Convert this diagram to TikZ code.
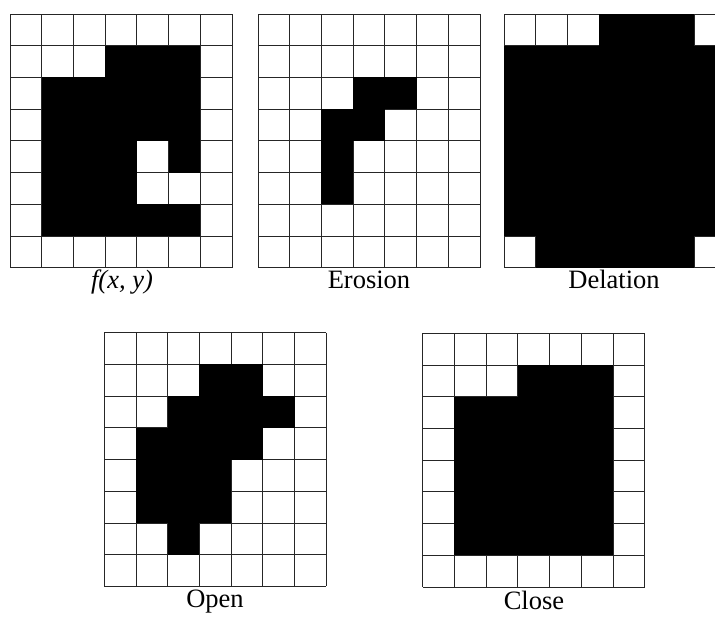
\documentclass[tikz,border=0pt]{standalone}
\usepackage{fontspec}
\setmainfont{Liberation Serif}
\newcommand\cw{31.7}
\newcommand\pixlines[2]{%
  \foreach \i in {0,...,7} {\draw[gridline] ({#1+\i*\cw},#2) -- ++(0,{8*\cw});}
  \foreach \j in {0,...,8} {\draw[gridline] (#1,{#2+\j*\cw}) -- ++({7*\cw},0);}
}
\newcommand\pixcells[3]{%
  \foreach \r/\c in {#3} {\fill[black] ({#1+\c*\cw},{#2+\r*\cw}) rectangle ++(\cw,\cw);}
}
\begin{document}
\begin{tikzpicture}[x=1pt,y=-1pt,
  gridline/.style={draw=black!85,line width=0.7pt},
  lab/.style={anchor=base,inner sep=0pt,font=\fontsize{26.5}{30}\selectfont}]
\useasboundingbox (0,0) rectangle (715,616);
\clip (0,0) rectangle (715,616);
% f(x,y)
\pixlines{10}{14}
\pixcells{10}{14}{1/3,1/4,1/5,2/1,2/2,2/3,2/4,2/5,3/1,3/2,3/3,3/4,3/5,4/1,4/2,4/3,4/5,5/1,5/2,5/3,6/1,6/2,6/3,6/4,6/5}
% Erosion
\pixlines{258}{14}
\pixcells{258}{14}{2/3,2/4,3/2,3/3,4/2,5/2}
% Delation
\pixlines{504}{14}
\pixcells{504}{14}{0/3,0/4,0/5,7/1,7/2,7/3,7/4,7/5}
\fill[black] (504,{14+\cw}) rectangle ++({7*\cw},{6*\cw});
% Open
\pixlines{104.3}{332.7}
\pixcells{104.3}{332.7}{1/3,1/4,2/2,2/3,2/4,2/5,3/1,3/2,3/3,3/4,4/1,4/2,4/3,5/1,5/2,5/3,6/2}
% Close
\pixlines{422.7}{333.3}
\pixcells{422.7}{333.3}{1/3,1/4,1/5,2/1,2/2,2/3,2/4,2/5,3/1,3/2,3/3,3/4,3/5,4/1,4/2,4/3,4/5,4/4,5/1,5/2,5/3,5/4,5/5,6/1,6/2,6/3,6/4,6/5}
% labels
\node[lab] (lf) at (122,288.5) {\itshape f(x, y)};
\node[lab] (le) at (369,288.5) {Erosion};
\node[lab] (ld) at (614,288.5) {Delation};
\node[lab] (lo) at (215,607.5) {Open};
\node[lab] (lc) at (534,609.5) {Close};
\end{tikzpicture}
\end{document}
